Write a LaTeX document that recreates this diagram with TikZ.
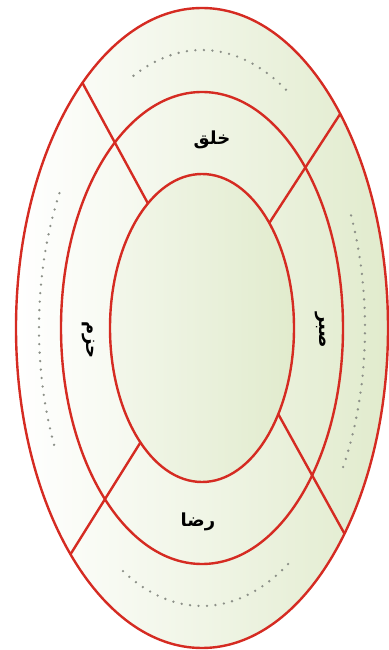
\documentclass[tikz,border=0pt]{standalone}
\usepackage{fontspec}
\newfontfamily\arabicfont[Script=Arabic]{DejaVu Sans}
\TeXXeTstate=1
\definecolor{ringred}{HTML}{D52B22}
\definecolor{palegreen}{HTML}{E1EBCD}
\definecolor{dotgray}{HTML}{8C9088}

\begin{document}
\begin{tikzpicture}[x=1pt,y=1pt,
	ring/.style={draw=ringred,line width=2.4pt},
	dotarc/.style={draw=dotgray,line width=2.6pt,line cap=round,dash pattern=on 0pt off 8.5pt},
	virtue/.style={font=\arabicfont\bfseries\fontsize{18}{20}\selectfont,inner sep=1pt}]
	\useasboundingbox (-202,-322) rectangle (186,328);
	\shade [left color=white,right color=palegreen] (0,0) ellipse (186 and 320);
	\shade [left color=palegreen!40,middle color=white,right color=palegreen] (0,0) ellipse (92 and 154);
	\draw [ring] (0,0) ellipse (186 and 320);
	\draw [ring] (0,0) ellipse (141 and 236);
	\draw [ring] (0,0) ellipse (92 and 154);
	% ends of the dividers
	\coordinate (ulIn) at (126:92 and 154);
	\coordinate (ulOut) at (130:186 and 320);
	\coordinate (urIn) at (43:92 and 154);
	\coordinate (urOut) at (42:186 and 320);
	\coordinate (llIn) at (228:92 and 154);
	\coordinate (llOut) at (225:186 and 320);
	\coordinate (lrIn) at (-34:92 and 154);
	\coordinate (lrOut) at (-40:186 and 320);
	\draw [ring] (ulIn) -- (ulOut);
	\draw [ring] (urIn) -- (urOut);
	\draw [ring] (llIn) -- (llOut);
	\draw [ring] (lrIn) -- (lrOut);
	% dotted arcs
	\draw [dotarc] (59:163 and 278) arc[start angle=59,end angle=117,x radius=163,y radius=278];
	\draw [dotarc] (151:163 and 278) arc[start angle=151,end angle=206,x radius=163,y radius=278];
	\draw [dotarc] (-119:163 and 278) arc[start angle=-119,end angle=-57,x radius=163,y radius=278];
	\draw [dotarc] (-30:163 and 278) arc[start angle=-30,end angle=25,x radius=163,y radius=278];
	\begin{scope}[every node/.style={virtue}]
	\node (khalq) at (10,188) {\beginR خلق\endR};
	\node [rotate=-90] (hazm) at (-114,-12) {\beginR حزم\endR};
	\node [rotate=-90] (sabr) at (119,-2) {\beginR صبر\endR};
	\node (rida) at (-4,-194) {\beginR رضا\endR};
	\end{scope}
\end{tikzpicture}
\end{document}
